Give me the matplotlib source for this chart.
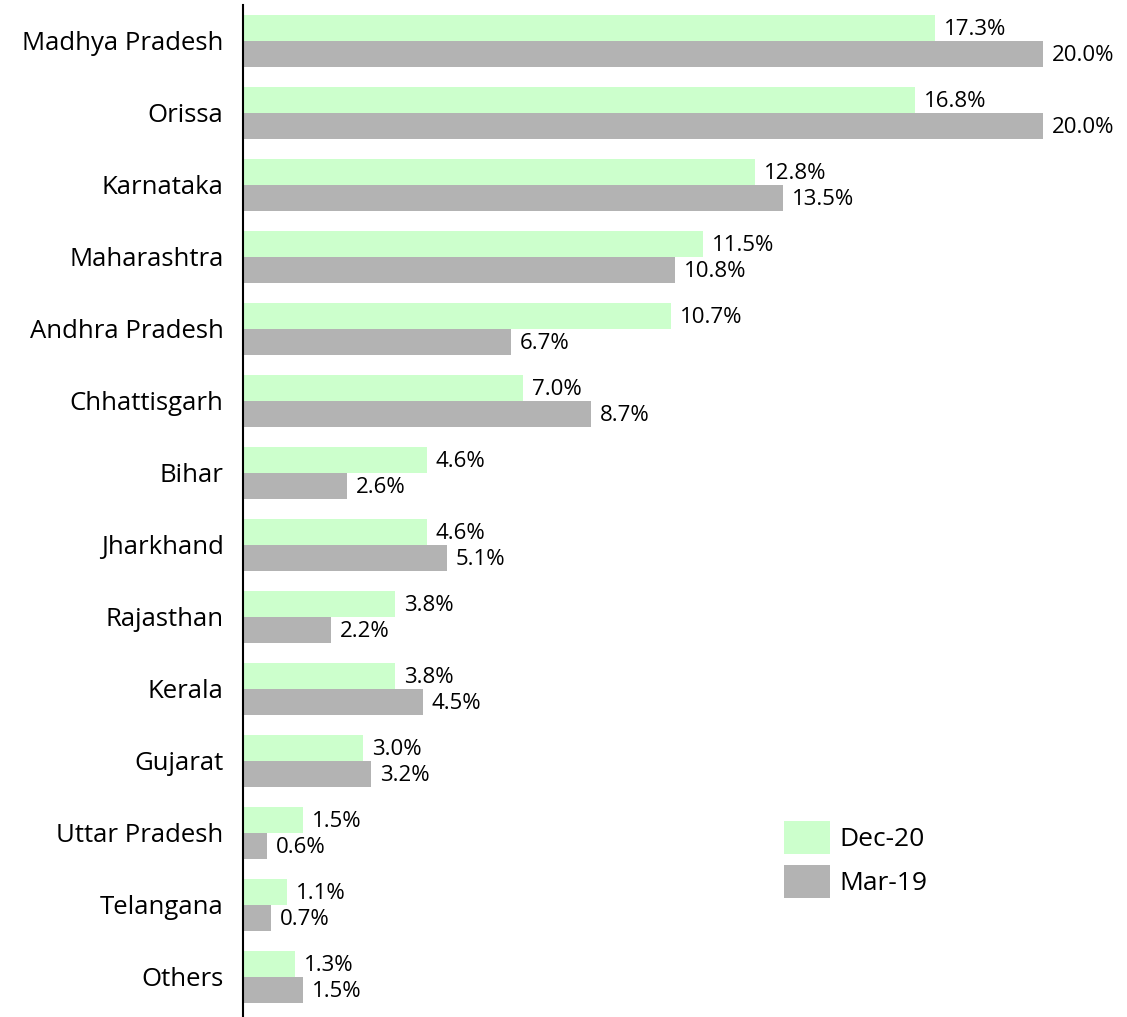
import matplotlib
matplotlib.use("Agg")
import matplotlib.pyplot as plt
import numpy as np

plt.rcParams['font.family'] = ['Open Sans', 'DejaVu Sans']

states = ["Madhya Pradesh", "Orissa", "Karnataka", "Maharashtra", "Andhra Pradesh",
          "Chhattisgarh", "Bihar", "Jharkhand", "Rajasthan", "Kerala", "Gujarat",
          "Uttar Pradesh", "Telangana", "Others"]
dec20 = [17.3, 16.8, 12.8, 11.5, 10.7, 7.0, 4.6, 4.6, 3.8, 3.8, 3.0, 1.5, 1.1, 1.3]
mar19 = [20.0, 20.0, 13.5, 10.8, 6.7, 8.7, 2.6, 5.1, 2.2, 4.5, 3.2, 0.6, 0.7, 1.5]
series_names = ["Dec-20", "Mar-19"]
colors = ["#CCFFCC", "#B3B3B3"]

fig = plt.figure(figsize=(11.27, 10.17), dpi=100)
ax = fig.add_axes([243 / 1127, 0, 1 - 243 / 1127, 1 - 5 / 1017])

y = np.arange(len(states))
h = 26 / 72
for vals, off, col, name in [(dec20, -h / 2, colors[0], series_names[0]),
                             (mar19, h / 2, colors[1], series_names[1])]:
    ax.barh(y + off, vals, height=h, color=col, label=name)
    for yi, v in zip(y, vals):
        ax.text(v + 0.22, yi + off + 0.02, f"{v:.1f}%", va="center", ha="left",
                fontsize=16, color="black")

ax.set_xlim(0, (1127 - 243) / 40)
ax.set_ylim(len(states) - 1 + (1017 - 977) / 72, -0.5)
ax.set_yticks(y)
ax.set_yticklabels(states, fontsize=18.5)
ax.tick_params(axis="y", length=0, pad=14)
ax.set_xticks([])
for s in ["top", "right", "bottom"]:
    ax.spines[s].set_visible(False)
ax.spines["left"].set_linewidth(1.5)

ax.legend(loc="upper left", bbox_to_anchor=(760 / 1127, 1 - 797 / 1017),
          bbox_transform=fig.transFigure, frameon=False, fontsize=19,
          handlelength=1.74, handleheight=1.55, handletextpad=0.38, labelspacing=0.42)

fig.savefig("out.png", dpi=100)
